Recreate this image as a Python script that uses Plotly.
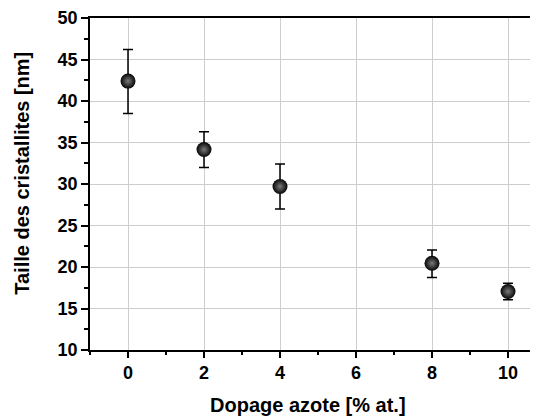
import plotly.graph_objects as go

# dopage azote (% at.) vs taille des cristallites (nm)
dopage = [0, 2, 4, 8, 10]
taille = [42.4, 34.15, 29.7, 20.45, 17.05]
err_plus = [3.8, 2.15, 2.7, 1.6, 1.0]
err_minus = [3.9, 2.15, 2.7, 1.7, 1.0]

x_title = "Dopage azote [% at.]"
y_title = "Taille des cristallites [nm]"

fnt = dict(family="Liberation Sans, Arial, sans-serif", color="black", weight="bold")

fig = go.Figure()
fig.add_trace(go.Scatter(
    x=dopage, y=taille, mode="markers",
    error_y=dict(type="data", symmetric=False, array=err_plus, arrayminus=err_minus,
                 color="black", thickness=1.5, width=5),
    marker=dict(size=15, color="#050505", line=dict(width=0),
                gradient=dict(type="radial", color="#7a7a7a")),
    showlegend=False,
))

# page body has an 8px margin, so the figure is shifted by 8px
fig.update_layout(
    width=538, height=419,
    margin=dict(l=82, r=0, t=7, b=77),
    paper_bgcolor="white", plot_bgcolor="white",
    font=dict(size=17, **fnt),
)

fig.update_xaxes(
    range=[-1, 11], tick0=0, dtick=2,
    showline=True, linecolor="black", linewidth=1.5, mirror=True,
    ticks="outside", ticklen=6, tickwidth=1.5, tickcolor="black",
    minor=dict(dtick=1, tick0=0, ticks="outside", ticklen=3, tickcolor="black", showgrid=False),
    showgrid=True, gridcolor="#cdcdcd", gridwidth=1,
    zeroline=False, tickfont=dict(size=18, **fnt), ticklabeloverflow="allow",
)
fig.update_yaxes(
    range=[10, 50], tick0=10, dtick=5,
    showline=True, linecolor="black", linewidth=1.5,
    ticks="outside", ticklen=7, tickwidth=1.5, tickcolor="black",
    minor=dict(dtick=2.5, tick0=10, ticks="outside", ticklen=4, tickcolor="black", showgrid=False),
    showgrid=True, gridcolor="#cdcdcd", gridwidth=1,
    zeroline=False, tickfont=dict(size=18, **fnt), ticklabeloverflow="allow",
)

fig.add_annotation(text=x_title, xref="paper", yref="paper", x=0.478, y=-0.167,
                   xanchor="center", yanchor="middle", showarrow=False,
                   font=dict(size=20, **fnt))
fig.add_annotation(text=y_title, xref="paper", yref="paper", x=-0.149, y=0.531,
                   xanchor="center", yanchor="middle", showarrow=False, textangle=-90,
                   font=dict(size=20, **fnt))

fig.write_html("out.html")
